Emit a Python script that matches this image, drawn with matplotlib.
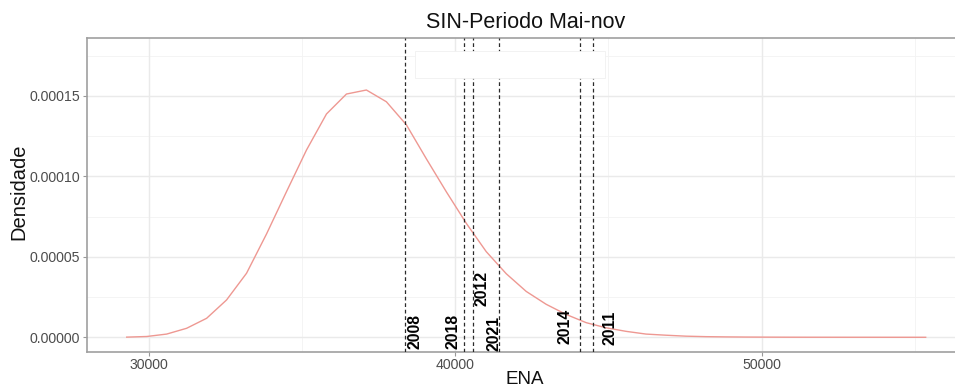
import matplotlib
matplotlib.use("Agg")
import matplotlib.pyplot as plt
from matplotlib.patches import Rectangle
from matplotlib.ticker import FixedLocator, FuncFormatter

plt.rcParams['font.family'] = ['Liberation Sans', 'DejaVu Sans']

# Estimated density of the May-Nov ENA (SIN)
ena_grid = [29289, 29941, 30592, 31244, 31896, 32547, 33199, 33851, 34503, 35154,
            35806, 36458, 37109, 37761, 38413, 39064, 39716, 40368, 41019, 41671,
            42323, 42974, 43626, 44278, 44929, 45581, 46233, 46884, 47536, 48188,
            48839, 49491, 50143, 50794, 51446, 52098, 52749, 53401, 54053, 54704,
            55356]
densidade_e5 = [0.01, 0.05, 0.20, 0.56, 1.18, 2.32, 3.98, 6.42, 9.05, 11.63,
                13.87, 15.11, 15.36, 14.63, 13.20, 11.09, 9.04, 7.08, 5.32, 3.95,
                2.85, 2.05, 1.42, 0.91, 0.59, 0.37, 0.20, 0.13, 0.07, 0.04,
                0.025, 0.015, 0.010, 0.006, 0.004, 0.003, 0.002, 0.002, 0.001, 0.001,
                0.001]

# Observed ENA in selected years
anos = ['2008', '2018', '2012', '2021', '2014', '2011']
ena_anos = [38355, 40297, 40575, 41450, 44065, 44490]
# label anchor points (ENA, density x 1e-5)
label_x = [38695, 39935, 40865, 41256, 43573, 45057]
label_y_e5 = [0.36, 0.36, 3.03, 0.24, 0.70, 0.61]

x_major = [30000, 40000, 50000]
x_minor = [35000, 45000, 55000]
y_major_e5 = [0, 5, 10, 15]
y_minor_e5 = [2.5, 7.5, 12.5, 17.5]

fig = plt.figure(figsize=(9.55, 3.92), dpi=100)
ax = fig.add_axes([86.5 / 955, 40 / 392, (965 - 86.5) / 955, 314 / 392])

ax.set_xlim(27977, 56639)
ax.set_ylim(-0.913e-5, 18.59e-5)

# grid
for v in x_minor:
    ax.axvline(v, color='#F3F3F3', lw=0.6, zorder=0)
for v in y_minor_e5:
    ax.axhline(v * 1e-5, color='#F3F3F3', lw=0.6, zorder=0)
for v in x_major:
    ax.axvline(v, color='#EAEAEA', lw=1.0, zorder=0)
for v in y_major_e5:
    ax.axhline(v * 1e-5, color='#EAEAEA', lw=1.0, zorder=0)

ax.plot(ena_grid, [d * 1e-5 for d in densidade_e5], color='#EE9892', lw=1.0, zorder=2)

for x in ena_anos:
    ax.axvline(x, color='#2A2A2A', lw=0.9, ls=(0, (3.0, 2.2)), zorder=3)

ax.add_patch(Rectangle((38695, 16.1e-5), 44894 - 38695, 1.68e-5,
                       facecolor='white', edgecolor='#F0F0F0', lw=0.6, zorder=4))

for lab, lx, ly in zip(anos, label_x, label_y_e5):
    ax.text(lx, ly * 1e-5, lab, rotation=90, ha='center', va='center',
            fontsize=11.3, fontweight='bold', color='black', zorder=5)

ax.xaxis.set_major_locator(FixedLocator(x_major))
ax.yaxis.set_major_locator(FixedLocator([v * 1e-5 for v in y_major_e5]))
ax.yaxis.set_major_formatter(FuncFormatter(lambda v, p: f"{v:.5f}"))
ax.tick_params(axis='both', direction='out', length=3, width=0.8, color='#999999',
               labelsize=10.2, labelcolor='#4D4D4D', pad=1.5)

for s in ax.spines.values():
    s.set_color('#A0A0A0')
    s.set_linewidth(1.2)

ax.set_title('SIN-Periodo Mai-nov', fontsize=15.5, pad=7.5, color='#111111')
fig.text(525 / 955, 1 - 380 / 392, 'ENA', ha='center', va='center', fontsize=13.5, color='#111111')
fig.text(19 / 955, 1 - 192 / 392, 'Densidade', ha='center', va='center', rotation=90,
         fontsize=14.5, color='#111111')

fig.savefig('out.png', dpi=100)
